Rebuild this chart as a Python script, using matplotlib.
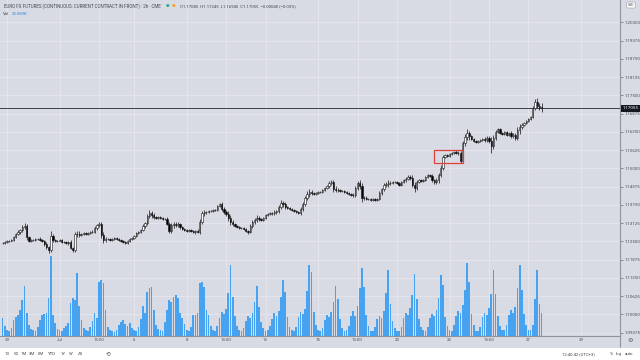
import numpy as np
import matplotlib.pyplot as plt
import matplotlib.transforms as mtransforms
from matplotlib.patches import Rectangle
from matplotlib.lines import Line2D

plt.rcParams['font.family'] = ['Roboto', 'DejaVu Sans']

# 2h bars, EURO FX futures, 26 Jun - 27 Jul 2020
first_open = 1.12460
closes = [
    1.12446, 1.12480,
    1.12514, 1.12530, 1.12549, 1.12651, 1.12754, 1.12823, 1.12891, 1.12994, 1.13028, 1.12651, 1.12514, 1.12549,
    1.12540, 1.12583, 1.12590, 1.12549, 1.12514, 1.12411, 1.12300, 1.12206, 1.12685, 1.12549, 1.12514, 1.12520,
    1.12549, 1.12480, 1.12490, 1.12446, 1.12480, 1.12275, 1.12206, 1.12754, 1.12760, 1.12720, 1.12754, 1.12788,
    1.12754, 1.12788, 1.12823, 1.12830, 1.12960, 1.13062, 1.13096, 1.12720, 1.12549, 1.12583, 1.12590, 1.12549,
    1.12583, 1.12617, 1.12583, 1.12549, 1.12514, 1.12480, 1.12446, 1.12514, 1.12583, 1.12617,
    1.12685, 1.12788, 1.12823, 1.12891, 1.13028, 1.13130, 1.13370, 1.13472, 1.13404, 1.13336, 1.13302, 1.13336,
    1.13302, 1.13267, 1.13270, 1.13096, 1.12857, 1.13062, 1.13096, 1.13062, 1.13096, 1.12994, 1.12925, 1.12891,
    1.12857, 1.12891, 1.12857, 1.12823, 1.12857, 1.12823, 1.13165, 1.13472, 1.13507, 1.13500, 1.13541, 1.13535,
    1.13575, 1.13570, 1.13712, 1.13781, 1.13610, 1.13507, 1.13438, 1.13302, 1.13165, 1.13096, 1.13028, 1.12994,
    1.12960, 1.12965, 1.12925, 1.12857, 1.12823, 1.13028, 1.13165, 1.13233, 1.13302, 1.13267, 1.13233, 1.13302,
    1.13404, 1.13438, 1.13472, 1.13465, 1.13507, 1.13541, 1.13678, 1.13815, 1.13781, 1.13678, 1.13644, 1.13610,
    1.13575, 1.13541, 1.13507, 1.13472, 1.13610, 1.13781, 1.13986, 1.14123, 1.14191, 1.14157, 1.14123, 1.14157,
    1.14191, 1.14185, 1.14260, 1.14328, 1.14397, 1.14500, 1.14534, 1.14294, 1.14260, 1.14265, 1.14226, 1.14230,
    1.14191, 1.14157, 1.14123, 1.14089, 1.14095, 1.14328, 1.14500, 1.14397, 1.13986, 1.13990, 1.13952, 1.13958,
    1.13918, 1.13952, 1.13918, 1.13952, 1.14157, 1.14294, 1.14431, 1.14465, 1.14500, 1.14495, 1.14534, 1.14528,
    1.14500, 1.14431, 1.14534, 1.14602, 1.14636, 1.14705, 1.14671, 1.14431, 1.14328, 1.14534, 1.14602, 1.14568,
    1.14602, 1.14705, 1.14773, 1.14739, 1.14602, 1.14534, 1.14602, 1.14773, 1.15013, 1.15389, 1.15458, 1.15424,
    1.15492, 1.15526, 1.15561, 1.15526, 1.15540, 1.15252, 1.15869, 1.16074, 1.16211, 1.16108, 1.16006, 1.15937,
    1.15903, 1.15937, 1.15971, 1.16006, 1.15971, 1.16040, 1.15937, 1.15766, 1.16040, 1.16245, 1.16348, 1.16211,
    1.16177, 1.16245, 1.16143, 1.16211, 1.16108, 1.16143, 1.16040, 1.16314, 1.16416, 1.16485, 1.16553, 1.16622,
    1.16690, 1.16759, 1.17067, 1.17272, 1.17150, 1.17085, 1.17055,
]
# wick lengths beyond the body, in pips
wick_up = [
    3, 4,
    3, 2, 4, 5, 4, 6, 5, 7, 9, 8, 4, 3,
    2, 3, 3, 5, 4, 5, 6, 6, 18, 7, 4, 3,
    3, 2, 4, 4, 5, 6, 5, 7, 10, 8, 5, 3,
    2, 3, 4, 5, 6, 5, 8, 7, 9, 6, 4, 3,
    2, 3, 3, 4, 5, 4, 3, 4, 5, 3,
    3, 2, 4, 5, 6, 5, 8, 9, 7, 6, 4, 3,
    3, 2, 4, 5, 6, 7, 6, 8, 7, 5, 4, 3,
    2, 3, 4, 5, 5, 6, 9, 8, 7, 5, 4, 3,
    3, 3, 4, 5, 7, 6, 8, 9, 10, 7, 5, 3,
    2, 3, 4, 4, 5, 6, 6, 7, 9, 6, 4, 3,
    3, 2, 4, 5, 6, 5, 7, 9, 8, 7, 5, 3,
    3, 3, 4, 5, 6, 6, 8, 9, 11, 8, 5, 3,
    2, 3, 4, 5, 5, 6, 7, 8, 9, 6, 4, 3,
    3, 3, 4, 5, 6, 6, 8, 10, 9, 7, 5, 3,
    2, 3, 4, 5, 6, 5, 7, 8, 10, 6, 4, 3,
    3, 2, 4, 5, 6, 6, 7, 9, 10, 7, 5, 3,
    3, 3, 4, 5, 6, 5, 7, 8, 9, 8, 4, 3,
    2, 3, 4, 6, 5, 6, 8, 10, 12, 8, 5, 3,
    3, 3, 4, 5, 6, 6, 7, 14, 10, 7, 5, 3,
    3, 2, 4, 5, 6, 6, 8, 9, 11, 7, 5, 3,
    3, 4, 6, 9, 12, 8, 16,
]
wick_dn = [
    4, 3,
    2, 3, 3, 4, 5, 5, 6, 6, 8, 10, 5, 3,
    3, 2, 4, 4, 5, 6, 7, 9, 7, 6, 4, 3,
    2, 3, 3, 5, 6, 5, 6, 8, 9, 7, 4, 3,
    3, 2, 4, 4, 5, 6, 7, 9, 10, 7, 4, 2,
    3, 2, 3, 4, 4, 5, 4, 3, 4, 3,
    2, 3, 3, 5, 5, 6, 7, 8, 9, 6, 4, 3,
    3, 2, 4, 5, 6, 6, 9, 7, 8, 6, 5, 3,
    2, 3, 3, 5, 6, 5, 7, 8, 9, 6, 4, 3,
    3, 2, 4, 5, 6, 7, 8, 10, 9, 8, 5, 3,
    2, 3, 4, 4, 6, 5, 7, 8, 7, 6, 4, 2,
    3, 2, 4, 5, 5, 6, 7, 8, 9, 7, 4, 3,
    2, 3, 4, 5, 6, 6, 7, 8, 10, 8, 5, 3,
    3, 3, 4, 4, 5, 6, 7, 9, 8, 6, 4, 3,
    2, 3, 4, 5, 6, 6, 8, 9, 12, 7, 5, 3,
    3, 2, 4, 5, 5, 6, 7, 8, 9, 6, 4, 2,
    2, 3, 4, 5, 6, 5, 7, 8, 14, 7, 4, 3,
    3, 2, 4, 5, 6, 6, 7, 9, 8, 7, 5, 3,
    2, 3, 4, 5, 6, 6, 8, 9, 10, 12, 5, 3,
    3, 2, 4, 5, 6, 6, 7, 24, 9, 7, 5, 3,
    2, 3, 4, 5, 6, 6, 7, 8, 14, 7, 5, 3,
    3, 4, 5, 8, 9, 10, 11,
]
# volume, thousands of contracts
volume_k = [
    4.8, 2.6,
    1.6, 1.3, 2.1, 4.2, 5.0, 5.6, 6.9, 9.5, 13.3, 6.1, 2.9, 1.9,
    1.6, 1.3, 2.4, 4.2, 5.6, 5.8, 6.1, 10.1, 21.2, 5.6, 3.4, 1.9,
    1.6, 1.3, 2.1, 2.7, 3.4, 8.7, 10.1, 9.5, 16.7, 8.0, 4.2, 2.1,
    1.6, 1.3, 2.4, 4.0, 6.1, 4.8, 14.3, 14.8, 14.0, 6.9, 2.4, 1.6,
    1.2, 1.0, 1.6, 2.8, 3.7, 4.2, 3.2, 2.6, 3.5, 2.0,
    1.6, 1.3, 2.4, 4.5, 8.0, 6.1, 11.7, 12.7, 13.0, 6.9, 2.9, 1.9,
    1.6, 1.3, 3.7, 6.9, 9.5, 9.0, 10.3, 10.9, 10.1, 6.1, 4.8, 3.2,
    1.6, 1.3, 2.4, 5.6, 5.6, 6.1, 14.0, 14.3, 13.0, 6.9, 5.6, 2.6,
    1.7, 1.4, 2.6, 4.9, 6.3, 5.8, 7.2, 11.5, 18.8, 10.4, 5.3, 2.7,
    1.5, 1.2, 2.2, 4.1, 5.4, 4.7, 6.0, 9.1, 13.3, 7.6, 3.7, 2.0,
    1.3, 1.6, 2.7, 4.6, 6.1, 5.3, 6.5, 10.4, 14.8, 11.6, 5.1, 2.4,
    1.5, 1.4, 2.4, 5.1, 6.4, 5.9, 7.2, 12.0, 18.8, 16.9, 6.3, 2.9,
    1.6, 1.3, 2.1, 4.3, 5.6, 5.0, 6.3, 8.9, 13.3, 9.8, 4.4, 2.2,
    1.4, 1.5, 2.6, 5.3, 6.5, 5.4, 7.9, 12.6, 18.0, 12.9, 5.5, 2.7,
    1.3, 1.2, 2.3, 4.5, 5.4, 4.8, 6.7, 11.3, 17.5, 8.4, 4.0, 2.1,
    1.2, 1.4, 2.4, 4.9, 6.2, 5.5, 7.3, 10.9, 16.4, 9.7, 4.6, 2.3,
    1.5, 1.3, 2.5, 4.7, 5.9, 5.2, 6.8, 10.1, 16.2, 13.5, 5.0, 2.6,
    1.6, 1.4, 2.8, 5.4, 6.7, 6.0, 8.1, 12.3, 19.3, 14.2, 5.8, 3.0,
    1.4, 1.3, 2.5, 5.0, 6.2, 5.6, 7.4, 11.2, 17.5, 11.0, 5.2, 2.6,
    1.5, 1.6, 2.9, 5.6, 6.8, 6.1, 7.8, 12.6, 18.8, 12.1, 5.7, 2.8,
    1.6, 1.5, 3.0, 9.8, 17.5, 8.5, 6.0,
]

time_ticks = [2, 26, 44, 60, 84, 102, 120, 144, 162, 180, 204, 222, 240, 264]
time_labels = ['29', 'Jul', '13:00', '6', '8', '13:00', '13', '15', '13:00',
               '20', '22', '13:00', '27', '29']
price_ticks = [1.09375, 1.10000, 1.10625, 1.11250, 1.11875, 1.12500, 1.13125,
               1.13750, 1.14375, 1.15000, 1.15625, 1.16250, 1.16875, 1.17500,
               1.18125, 1.18750, 1.19375, 1.20000]
last_price = 1.17055
box_x = (196.8, 210.2)
box_y = (1.15174, 1.15629)

title = 'EURO FX FUTURES (CONTINUOUS: CURRENT CONTRACT IN FRONT) · 2h · CME'
ohlc_text = 'O1.17085  H1.17245  L1.16945  C1.17055  −0.00040 (−0.03%)'
vol_text = '23.089K'
ranges = ['1D', '5D', '1M', '3M', '6M', 'YTD', '1Y', '5Y', 'All']

BG = '#d9dbe4'
GRID = '#e5e6ed'
TXT = '#4a4d58'
LINE = '#8f929c'

c = np.array(closes)
o = np.array([first_open] + closes[:-1])
hi = np.maximum(o, c) + np.array(wick_up) * 1e-4
lo = np.minimum(o, c) - np.array(wick_dn) * 1e-4
x = np.arange(len(c))
up = c >= o

fig = plt.figure(figsize=(6.4, 3.6), dpi=100, facecolor=BG)
rect = [0, 24 / 360, 620 / 640, 336 / 360]

# background + grid
ax_bg = fig.add_axes(rect)
ax_bg.set_facecolor(BG)
ax_bg.set_xlim(-1.2, 281.8)
ax_bg.set_ylim(1.09263, 1.20763)
ax_bg.set_xticks(time_ticks)
ax_bg.set_yticks(price_ticks)
ax_bg.grid(True, color=GRID, lw=0.7)
ax_bg.tick_params(length=0, labelbottom=False, labelleft=False)
for s in ax_bg.spines.values():
    s.set_visible(False)

# volume overlay
ax_vol = fig.add_axes(rect, sharex=ax_bg)
ax_vol.patch.set_visible(False)
ax_vol.bar(x, volume_k, width=0.78, color='#47a2f0', linewidth=0)
ax_vol.set_ylim(0, 89)
ax_vol.axis('off')

# candles
ax = fig.add_axes(rect, sharex=ax_bg, sharey=ax_bg)
ax.patch.set_visible(False)
ax.vlines(x, lo, hi, color='#111111', lw=0.5, zorder=2)
body_lo = np.minimum(o, c)
body_h = np.maximum(np.abs(c - o), 0.00004)
ax.bar(x, body_h, bottom=body_lo, width=0.62,
       color=np.where(up, '#ffffff', '#000000'), edgecolor='#111111',
       linewidth=0.4, zorder=3)
ax.axhline(last_price, color='#3d404a', lw=0.7, zorder=1)
ax.add_patch(Rectangle((box_x[0], box_y[0]), box_x[1] - box_x[0], box_y[1] - box_y[0],
                       fill=False, ec='#e3403b', lw=0.9, zorder=4))

ax.yaxis.tick_right()
ax.set_xticklabels(time_labels)
ax.set_yticklabels([f'{p:.5f}' for p in price_ticks])
ax.tick_params(axis='y', labelsize=3.2, colors=TXT, length=2, width=0.4, pad=1.2)
ax.tick_params(axis='x', labelsize=3.2, colors=TXT, length=0, pad=1.2)
for side in ['top', 'left']:
    ax.spines[side].set_visible(False)
for side in ['right', 'bottom']:
    ax.spines[side].set_color(LINE)
    ax.spines[side].set_linewidth(0.8)

tr = mtransforms.blended_transform_factory(ax.transAxes, ax.transData)
ax.text(1.004, last_price, '1.17055', transform=tr, ha='left', va='center',
        fontsize=3.2, color='white', zorder=5,
        bbox=dict(boxstyle='square,pad=0.35', fc='#131722', ec='none'))

# separator down through the time strip, white toolbar
fig.add_artist(Line2D([620 / 640, 620 / 640], [13 / 360, 24 / 360], color=LINE, lw=0.8))
fig.add_artist(Rectangle((0, 0), 1, 13 / 360, transform=fig.transFigure,
                         fc='white', ec='none'))
fig.add_artist(Line2D([0, 1], [13 / 360, 13 / 360], color='#c9cbd3', lw=0.5))
fig.text(630 / 640, 1 - 341 / 360, '⚙', fontsize=4.5, color='#50535e',
         ha='center', va='center', family='DejaVu Sans')

# legend lines
fig.text(4 / 640, 1 - 6 / 360, title, fontsize=3.25, color='#434651', va='center')
fig.text(166 / 640, 1 - 6 / 360, '●', fontsize=3.0, color='#22ab94', va='center',
         family='DejaVu Sans')
fig.text(172 / 640, 1 - 6 / 360, '●', fontsize=3.0, color='#f7a21b', va='center',
         family='DejaVu Sans')
fig.text(180 / 640, 1 - 6 / 360, ohlc_text, fontsize=3.1, color='#434651', va='center')
fig.text(3 / 640, 1 - 14 / 360, 'Vol', fontsize=3.1, color='#434651', va='center')
fig.text(12 / 640, 1 - 14 / 360, vol_text, fontsize=3.1, color='#2f8ee0', va='center')

# small currency box top right
fig.text(631 / 640, 1 - 5 / 360, 'USD', fontsize=2.4, color='#434651', ha='center',
         va='center', bbox=dict(boxstyle='round,pad=0.3', fc='white', ec='#9598a1', lw=0.4))

# bottom toolbar
range_x = [7, 16, 24, 32, 41, 52, 63, 71, 80]
for rx, lab in zip(range_x, ranges):
    fig.text(rx / 640, 1 - 354 / 360, lab, fontsize=3.1, color='#434651',
             ha='center', va='center')
fig.text(108 / 640, 1 - 354 / 360, '⟲', fontsize=4, color='#434651',
         ha='center', va='center', family='DejaVu Sans')
fig.text(578 / 640, 1 - 354 / 360, '12:40:42 (UTC+3)', fontsize=3.1, color='#434651',
         ha='center', va='center')
fig.text(611 / 640, 1 - 354 / 360, '%', fontsize=3.1, color='#434651', ha='center', va='center')
fig.text(619 / 640, 1 - 354 / 360, 'log', fontsize=3.1, color='#434651', ha='center', va='center')
fig.text(629 / 640, 1 - 354 / 360, 'auto', fontsize=3.1, color='#434651', ha='center', va='center')

fig.savefig('out.png', dpi=100, facecolor=BG)
